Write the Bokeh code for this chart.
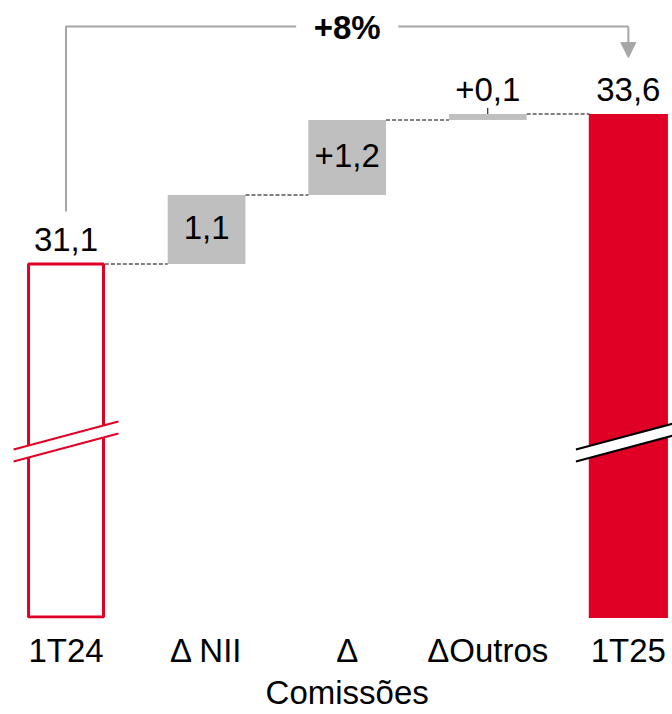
from bokeh.plotting import figure
from bokeh.models import Range1d, FixedTicker, Arrow, NormalHead
from bokeh.core.properties import value
from bokeh.embed import file_html
from bokeh.resources import INLINE

# ---------------- data ----------------
categories = ["1T24", "Δ NII", "Δ\nComissões", "ΔOutros", "1T25"]
start_value = 31.1
deltas = [1.15, 1.25, 0.10]
end_value = 33.6
value_labels = ["31,1", "1,1", "+1,2", "+0,1", "33,6"]
growth_label = "+8%"

# ---------------- style / layout ----------------
RED = "#E00025"
GREY_BAR = "#BFBFBF"
GREY_LINE = "#A6A6A6"
FONT = "Liberation Sans"
BASE = 25.2          # visual bottom of the broken bars
PPU = 60.0           # pixels per unit
W = 0.553
BRACKET_Y = 35.06
BRACKET_LEFT_BOTTOM = 31.975
ARROW_TIP = 34.54
BREAK_Y = 28.008
BREAK_HALF = 0.373
BREAK_RISE = 0.467
BREAK_GAP = 0.2

n = len(categories)
xs = list(range(n))

# cumulative positions
bottoms = [BASE]
tops = [start_value]
run = start_value
for d in deltas:
    bottoms.append(run)
    run = run + d
    tops.append(run)
bottoms.append(BASE)
tops.append(end_value)

p = figure(width=672, height=714, output_backend="svg", toolbar_location=None,
           x_range=Range1d(-0.466, 4.314),
           y_range=Range1d(BASE - 0.5 / PPU, BASE + 617.5 / PPU),
           y_axis_location=None,
           min_border_left=0, min_border_right=0, min_border_top=0, min_border_bottom=96)
p.grid.visible = False
p.outline_line_color = None
p.background_fill_color = "white"
p.border_fill_color = "white"

# bars
p.vbar(x=[0], bottom=[bottoms[0] + 1.0 / PPU], top=[tops[0]], width=W - 0.02,
       fill_color="white", line_color=RED, line_width=3)
p.vbar(x=xs[1:4], bottom=bottoms[1:4], top=tops[1:4], width=W,
       fill_color=GREY_BAR, line_color=None)
p.vbar(x=[4], bottom=[bottoms[4]], top=[tops[4]], width=W + 0.01,
       fill_color=RED, line_color=None)

# connectors
p.segment(x0=[i + W / 2 for i in range(n - 1)], y0=tops[:n - 1],
          x1=[i + 1 - W / 2 for i in range(n - 1)], y1=tops[:n - 1],
          line_color="black", line_width=1, line_dash="4 2")

# small leader tick above ΔOutros
p.segment(x0=[3], y0=[tops[3]], x1=[3], y1=[tops[3] + 0.1], line_color="black", line_width=1)

# axis breaks
for c, col in [(0, RED), (4, "black")]:
    x0, x1 = c - BREAK_HALF, c + BREAK_HALF
    p.patch([x0, x1, x1, x0],
            [BREAK_Y - BREAK_GAP, BREAK_Y - BREAK_GAP + BREAK_RISE, BREAK_Y + BREAK_RISE, BREAK_Y],
            fill_color="white", line_color=None)
    p.multi_line([[x0, x1], [x0, x1]],
                 [[BREAK_Y, BREAK_Y + BREAK_RISE], [BREAK_Y - BREAK_GAP, BREAK_Y - BREAK_GAP + BREAK_RISE]],
                 line_color=col, line_width=2)

# value labels
above_x, above_y, above_t = [], [], []
in_x, in_y, in_t = [], [], []
for i in range(n):
    h = tops[i] - bottoms[i]
    if 0 < i < n - 1 and h > 0.5:
        in_x.append(i); in_y.append((tops[i] + bottoms[i]) / 2); in_t.append(value_labels[i])
    else:
        above_x.append(i); above_y.append(tops[i]); above_t.append(value_labels[i])

p.text(x=above_x, y=above_y, text=above_t, text_align="center", text_baseline="alphabetic",
       y_offset=-25, text_font=value(FONT), text_font_size="33px", text_color="black")
p.text(x=in_x, y=in_y, text=in_t, text_align="center", text_baseline="middle",
       y_offset=-2, text_font=value(FONT), text_font_size="33px", text_color="black")

# growth bracket
p.line([0, 0, 2 - 0.363], [BRACKET_LEFT_BOTTOM, BRACKET_Y, BRACKET_Y], line_color=GREY_LINE, line_width=2)
p.line([2 + 0.363, 4], [BRACKET_Y, BRACKET_Y], line_color=GREY_LINE, line_width=2)
p.add_layout(Arrow(end=NormalHead(size=15, fill_color=GREY_LINE, line_color=GREY_LINE, line_width=1),
                   x_start=4, y_start=BRACKET_Y, x_end=4, y_end=ARROW_TIP,
                   line_color=GREY_LINE, line_width=2))
p.text(x=[2], y=[BRACKET_Y], text=[growth_label], text_align="center", text_baseline="middle",
       y_offset=1, text_font=value(FONT), text_font_style="bold", text_font_size="33px",
       text_color="black")

# x axis
ax = p.xaxis[0]
ax.ticker = FixedTicker(ticks=xs)
ax.major_label_overrides = {i: c for i, c in zip(xs, categories)}
ax.axis_line_color = None
ax.major_tick_line_color = None
ax.minor_tick_line_color = None
ax.major_tick_out = 0
ax.major_tick_in = 0
ax.minor_tick_out = 0
ax.minor_tick_in = 0
ax.major_label_standoff = 13
ax.major_label_text_font = FONT
ax.major_label_text_font_size = "33px"
ax.major_label_text_line_height = 1.15
ax.major_label_text_color = "black"

open("out.html", "w").write(file_html(p, INLINE))
